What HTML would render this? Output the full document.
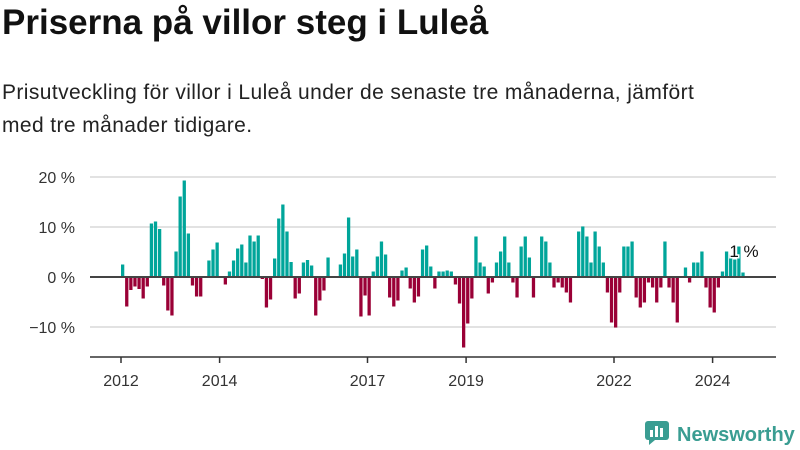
<!DOCTYPE html>
<html><head><meta charset="utf-8"><style>
body{margin:0;width:800px;height:450px;background:#fff;font-family:"Liberation Sans",sans-serif;overflow:hidden;position:relative;color:#111}
h1{position:absolute;left:2px;top:3px;margin:0;font-size:35px;font-weight:bold;letter-spacing:0px;white-space:nowrap}
.sub{position:absolute;left:2px;top:76px;margin:0;font-size:21px;letter-spacing:0.4px;line-height:33px;color:#222;width:800px;white-space:nowrap}
svg{position:absolute;left:0;top:0}
.logo{position:absolute;left:645px;top:419px;font-size:20px;font-weight:bold;color:#3a9d92;white-space:nowrap}
</style></head><body>
<h1>Priserna på villor steg i Luleå</h1>
<p class="sub">Prisutveckling för villor i Luleå under de senaste tre månaderna, jämfört<br>med tre månader tidigare.</p>
<svg width="800" height="450" id="chart"></svg>
<div class="logo"><svg width="26" height="26" style="position:static;vertical-align:-4px;margin-right:6px"><rect x="0" y="2" width="24" height="19" rx="3" fill="#3a9d92"/><rect x="5" y="11" width="3" height="7" fill="#fff"/><rect x="10" y="7" width="3" height="11" fill="#fff"/><rect x="15" y="9" width="3" height="9" fill="#fff"/><path d="M4 21 L4 26 L10 21Z" fill="#3a9d92"/></svg>Newsworthy</div>
<script>
const startYear = 2012;
const values = [2.5,-5.9,-2.6,-1.9,-2.4,-4.3,-1.9,10.7,11.1,9.6,-1.7,-6.7,
-7.7,5.1,16.1,19.3,8.7,-1.7,-3.9,-3.9,0,3.3,5.5,6.9,
0,-1.5,1.1,3.3,5.7,6.5,2.9,8.3,7.1,8.3,-0.4,-6.1,
-4.5,3.7,11.7,14.5,9.1,3.0,-4.3,-3.3,2.9,3.4,2.3,-7.7,
-4.7,-2.7,3.9,0,0,2.5,4.7,11.9,4.1,5.5,-7.9,-3.7,
-7.7,1.1,4.1,7.1,4.5,-4.1,-5.9,-4.7,1.3,1.9,-2.3,-5.1,
-3.9,5.5,6.3,2.1,-2.3,1.1,1.1,1.3,1.1,-1.5,-5.3,-14.1,
-9.3,-4.3,8.1,2.9,2.1,-3.3,-1.1,2.9,5.1,8.1,2.9,-1.1,
-4.1,6.1,8.1,3.9,-4.1,0,8.1,7.1,2.9,-2.1,-1.1,-2.1,
-3.1,-5.1,0,9.1,10.1,8.1,2.9,9.1,6.1,2.9,-3.1,-9.1,
-10.1,-3.1,6.1,6.1,7.1,-4.1,-6.1,-5.1,-1.1,-2.1,-5.1,-2.1,
7.1,-2.1,-5.1,-9.1,0,1.9,-1.1,2.9,2.9,5.1,-2.1,-6.1,
-7.1,-2.1,1.1,5.1,4.5,3.5,6.1,0.9];
const yTicks = [20,10,0,-10];
const yTickLabels = ["20 %","10 %","0 %","−10 %"];
const xTickYears = [2012,2014,2017,2019,2022,2024];
const lastLabel = "1 %";

const NS="http://www.w3.org/2000/svg";
const svg=document.getElementById('chart');
const step=49.3/12;
const xScale=i=>121+i*step;
const xYear=y=>121+(y-2012)*49.3;
const yScale=v=>277-v*5;
function mk(t,a){const e=document.createElementNS(NS,t);for(const k in a)e.setAttribute(k,a[k]);svg.appendChild(e);return e;}
yTicks.forEach((t,i)=>{
  if(t!==0){const g=mk('line',{x1:90,x2:776,y1:yScale(t),y2:yScale(t),stroke:'#e2e2e2','stroke-width':2});
  
  }
  const l=mk('text',{x:75,y:yScale(t)+6,'text-anchor':'end','font-size':16,fill:'#333'});
  l.textContent=yTickLabels[i];
  
  
});
const ax=mk('line',{x1:90,x2:776,y1:357,y2:357,stroke:'#333','stroke-width':1.5});


xTickYears.forEach(y=>{
  const x=xYear(y);
  const tk=mk('line',{x1:x,x2:x,y1:357,y2:363,stroke:'#333','stroke-width':1.5});
  
  
  const l=mk('text',{x:x,y:386,'text-anchor':'middle','font-size':16,fill:'#333'});
  l.textContent=y;
  
  
});
values.forEach((v,i)=>{
  if(v===0)return;
  const y0=yScale(0),y1=yScale(v);
  const r=mk('rect',{x:xScale(i),y:Math.min(y0,y1),width:step*0.8,height:Math.abs(y1-y0),fill:v>0?'#00a59a':'#9a0036'});
  
  
});
const z=mk('line',{x1:90,x2:776,y1:277,y2:277,stroke:'#444','stroke-width':2});


const ll=mk('text',{x:xScale(values.length-1)-12,y:257,'font-size':17,fill:'#111',stroke:'#fff','stroke-width':3,'paint-order':'stroke'});
ll.textContent=lastLabel;


</script>
</body></html>
